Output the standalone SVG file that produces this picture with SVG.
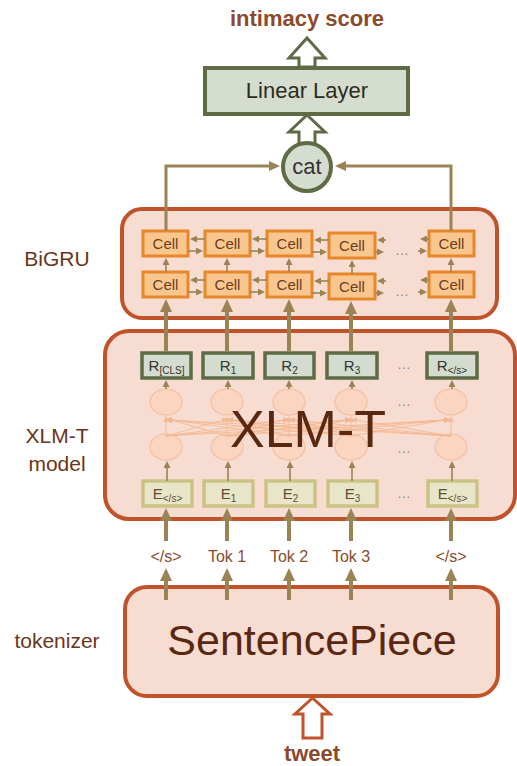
<svg xmlns="http://www.w3.org/2000/svg" width="517" height="766" viewBox="0 0 517 766">
<defs>
<marker id="hb" viewBox="0 0 13 12" refX="1" refY="6" markerWidth="13" markerHeight="12" markerUnits="userSpaceOnUse" orient="auto"><path d="M0,0 L13,6 L0,12 z" fill="#9A8456"/></marker>
<marker id="hm" viewBox="0 0 11 10" refX="1" refY="5" markerWidth="11" markerHeight="10" markerUnits="userSpaceOnUse" orient="auto"><path d="M0,0 L11,5 L0,10 z" fill="#9A8456"/></marker>
<marker id="hs" viewBox="0 0 7 7" refX="1" refY="3.5" markerWidth="7" markerHeight="7" markerUnits="userSpaceOnUse" orient="auto"><path d="M0,0 L7,3.5 L0,7 z" fill="#9A8456"/></marker>
<marker id="hf" viewBox="0 0 6 6" refX="1" refY="3" markerWidth="6" markerHeight="6" markerUnits="userSpaceOnUse" orient="auto"><path d="M0,0 L6,3 L0,6 z" fill="#F4B68C"/></marker>
</defs>
<style>
text{font-family:"Liberation Sans",Arial,sans-serif}
.big{fill:#F7DCD2;stroke:#C1532B;stroke-width:4}
.cell{fill:#F9C690;stroke:#E8862A;stroke-width:3}
.ctx{font-size:15px;fill:#6B3E20;text-anchor:middle}
.rb{fill:#D3DCCF;stroke:#5E6B45;stroke-width:3.5}
.eb{fill:#E9E5C9;stroke:#CBC385;stroke-width:3.5}
.rt{font-size:15px;fill:#333;text-anchor:middle}
.et{font-size:15px;fill:#5E4E36;text-anchor:middle}
.sub{font-size:10px}
.thick{stroke:#9A8456;stroke-width:4;fill:none;marker-end:url(#hb)}
.mid{stroke:#9A8456;stroke-width:3;fill:none;marker-end:url(#hm)}
.thin{stroke:#9A8456;stroke-width:1.6;fill:none;marker-end:url(#hs)}
.faint{stroke:#F4B68C;stroke-width:1;fill:none;opacity:0.8;marker-end:url(#hf)}
.fc{fill:#FAD6C2;stroke:#F6C4A6;stroke-width:1.5}
.lbl{font-size:21px;fill:#6A3518;text-anchor:middle}
.tok{font-size:16px;fill:#8A4C2E;text-anchor:middle}
.dots{font-size:14px;fill:#8A8A8A;text-anchor:middle}
.bold{font-size:22px;font-weight:bold;fill:#8B4A2B;text-anchor:middle}
</style>

<g id="labels">
<text class="bold" x="307" y="26">intimacy score</text>
<text class="lbl" x="57" y="266">BiGRU</text>
<text class="lbl" x="57" y="443">XLM-T</text>
<text class="lbl" x="57" y="471">model</text>
<text class="lbl" x="57" y="648">tokenizer</text>
<text class="bold" x="312" y="761">tweet</text>
</g>

<g id="linear">
<polygon points="299,67 299,58 289,58 307,38 325,58 315,58 315,67" fill="#fff" stroke="#5E6B45" stroke-width="3"/>
<polygon points="299,147 299,132 289,132 307,115 325,132 315,132 315,147" fill="#fff" stroke="#5E6B45" stroke-width="3"/>
<rect x="205" y="68" width="203" height="46" fill="#D5DDD0" stroke="#5E6B45" stroke-width="4"/>
<text x="307" y="98" font-size="22" fill="#2B2B1E" text-anchor="middle">Linear Layer</text>
</g>

<g id="cat">
<circle cx="307" cy="167" r="24" fill="#D5DDD0" stroke="#5E6B45" stroke-width="4"/>
<text x="307" y="174" font-size="22" fill="#333" text-anchor="middle">cat</text>
</g>

<g id="bigru">
<rect class="big" x="122" y="209" width="375" height="109" rx="20"/>
</g>

<g id="xlmt">
<rect class="big" x="105" y="331" width="410" height="188" rx="24"/>
<ellipse class="fc" cx="166" cy="402" rx="16" ry="13"/>
<ellipse class="fc" cx="227" cy="402" rx="16" ry="13"/>
<ellipse class="fc" cx="289" cy="402" rx="16" ry="13"/>
<ellipse class="fc" cx="351" cy="402" rx="16" ry="13"/>
<ellipse class="fc" cx="451" cy="402" rx="16" ry="13"/>
<ellipse class="fc" cx="166" cy="447" rx="16" ry="13"/>
<ellipse class="fc" cx="227" cy="447" rx="16" ry="13"/>
<ellipse class="fc" cx="289" cy="447" rx="16" ry="13"/>
<ellipse class="fc" cx="351" cy="447" rx="16" ry="13"/>
<ellipse class="fc" cx="451" cy="447" rx="16" ry="13"/>
<g>
<path class="faint" d="M166,436 L166,421"/><path class="faint" d="M166,436 L223,420"/><path class="faint" d="M166,436 L284,420"/><path class="faint" d="M166,436 L346,420"/><path class="faint" d="M166,436 L445,420"/>
<path class="faint" d="M227,436 L171,420"/><path class="faint" d="M227,436 L227,421"/><path class="faint" d="M227,436 L284,420"/><path class="faint" d="M227,436 L346,420"/><path class="faint" d="M227,436 L445,420"/>
<path class="faint" d="M289,436 L171,420"/><path class="faint" d="M289,436 L232,420"/><path class="faint" d="M289,436 L289,421"/><path class="faint" d="M289,436 L346,420"/><path class="faint" d="M289,436 L445,420"/>
<path class="faint" d="M351,436 L171,420"/><path class="faint" d="M351,436 L232,420"/><path class="faint" d="M351,436 L294,420"/><path class="faint" d="M351,436 L351,421"/><path class="faint" d="M351,436 L445,420"/>
<path class="faint" d="M451,436 L171,420"/><path class="faint" d="M451,436 L232,420"/><path class="faint" d="M451,436 L294,420"/><path class="faint" d="M451,436 L356,420"/><path class="faint" d="M451,436 L451,421"/>
</g>
<text class="dots" x="404" y="406">…</text>
<text class="dots" x="404" y="453">…</text>
<text x="308" y="447" font-size="52" fill="#5A2810" text-anchor="middle">XLM-T</text>
</g>

<g id="r-boxes">
<rect class="rb" x="142" y="353" width="49" height="25"/><text class="rt" x="166.5" y="371">R<tspan class="sub" dy="3">[CLS]</tspan></text>
<rect class="rb" x="203" y="353" width="50" height="25"/><text class="rt" x="228" y="371">R<tspan class="sub" dy="3">1</tspan></text>
<rect class="rb" x="265" y="353" width="49" height="25"/><text class="rt" x="289.5" y="371">R<tspan class="sub" dy="3">2</tspan></text>
<rect class="rb" x="327" y="353" width="50" height="25"/><text class="rt" x="352" y="371">R<tspan class="sub" dy="3">3</tspan></text>
<text class="dots" x="404" y="369">…</text>
<rect class="rb" x="427" y="353" width="50" height="25"/><text class="rt" x="452" y="371">R<tspan class="sub" dy="3">&lt;/s&gt;</tspan></text>
</g>

<g id="e-boxes">
<rect class="eb" x="143" y="481" width="49" height="25"/><text class="et" x="167.5" y="499">E<tspan class="sub" dy="3">&lt;/s&gt;</tspan></text>
<rect class="eb" x="204" y="481" width="49" height="25"/><text class="et" x="228.5" y="499">E<tspan class="sub" dy="3">1</tspan></text>
<rect class="eb" x="266" y="481" width="49" height="25"/><text class="et" x="290.5" y="499">E<tspan class="sub" dy="3">2</tspan></text>
<rect class="eb" x="328" y="481" width="49" height="25"/><text class="et" x="352.5" y="499">E<tspan class="sub" dy="3">3</tspan></text>
<text class="dots" x="404" y="498">…</text>
<rect class="eb" x="428" y="481" width="49" height="25"/><text class="et" x="452.5" y="499">E<tspan class="sub" dy="3">&lt;/s&gt;</tspan></text>
</g>

<g id="cells">
<rect class="cell" x="143" y="231" width="45" height="25"/><text class="ctx" x="165.5" y="249">Cell</text>
<rect class="cell" x="205" y="231" width="45" height="25"/><text class="ctx" x="227.5" y="249">Cell</text>
<rect class="cell" x="267" y="231" width="45" height="25"/><text class="ctx" x="289.5" y="249">Cell</text>
<rect class="cell" x="329" y="233" width="46" height="25"/><text class="ctx" x="352" y="251">Cell</text>
<rect class="cell" x="429" y="231" width="45" height="25"/><text class="ctx" x="451.5" y="249">Cell</text>
<rect class="cell" x="143" y="272" width="45" height="25"/><text class="ctx" x="165.5" y="290">Cell</text>
<rect class="cell" x="205" y="272" width="45" height="25"/><text class="ctx" x="227.5" y="290">Cell</text>
<rect class="cell" x="267" y="272" width="45" height="25"/><text class="ctx" x="289.5" y="290">Cell</text>
<rect class="cell" x="329" y="274" width="46" height="25"/><text class="ctx" x="352" y="292">Cell</text>
<rect class="cell" x="429" y="272" width="45" height="25"/><text class="ctx" x="451.5" y="290">Cell</text>
<text class="dots" x="402" y="255">…</text>
<text class="dots" x="402" y="296">…</text>
</g>

<g id="sentencepiece">
<rect class="big" x="125" y="587" width="373" height="109" rx="22"/>
<text x="312" y="655" font-size="43" fill="#5A2810" text-anchor="middle">SentencePiece</text>
<polygon points="303,738 303,714 295,714 312.5,698 330,714 322,714 322,738" fill="#fff" stroke="#C1532B" stroke-width="3"/>
</g>

<g id="tokens">
<text class="tok" x="166" y="562">&lt;/s&gt;</text>
<text class="tok" x="227" y="562">Tok 1</text>
<text class="tok" x="289" y="562">Tok 2</text>
<text class="tok" x="351" y="562">Tok 3</text>
<text class="tok" x="451" y="562">&lt;/s&gt;</text>
</g>

<g id="connectors">
<path class="mid" d="M166,231 V166 H270"/>
<path class="mid" d="M451,231 V166 H345"/>
<path class="thick" d="M166,352 V311"/>
<path class="thick" d="M227,352 V311"/>
<path class="thick" d="M289,352 V311"/>
<path class="thick" d="M351,352 V313"/>
<path class="thick" d="M451,352 V311"/>
<path class="thin" d="M166,272 V264"/>
<path class="thin" d="M227,272 V264"/>
<path class="thin" d="M289,272 V264"/>
<path class="thin" d="M352,274 V266"/>
<path class="thin" d="M451,272 V264"/>
<path class="thin" d="M205,239 H196"/><path class="thin" d="M188,251 H197"/>
<path class="thin" d="M267,239 H258"/><path class="thin" d="M250,251 H259"/>
<path class="thin" d="M329,240 H320"/><path class="thin" d="M312,252 H321"/>
<path class="thin" d="M386,240 H383"/><path class="thin" d="M375,252 H378"/>
<path class="thin" d="M429,239 H426"/><path class="thin" d="M418,251 H421"/>
<path class="thin" d="M205,280 H196"/><path class="thin" d="M188,292 H197"/>
<path class="thin" d="M267,280 H258"/><path class="thin" d="M250,292 H259"/>
<path class="thin" d="M329,281 H320"/><path class="thin" d="M312,293 H321"/>
<path class="thin" d="M386,281 H383"/><path class="thin" d="M375,293 H378"/>
<path class="thin" d="M429,280 H426"/><path class="thin" d="M418,292 H421"/>
<path class="thin" d="M166,389 V386"/>
<path class="thin" d="M228,389 V386"/>
<path class="thin" d="M289,389 V386"/>
<path class="thin" d="M352,389 V386"/>
<path class="thin" d="M452,389 V386"/>
<path class="thin" d="M167,481 V467"/>
<path class="thin" d="M228,481 V467"/>
<path class="thin" d="M290,481 V467"/>
<path class="thin" d="M352,481 V467"/>
<path class="thin" d="M452,481 V467"/>
<path class="thick" d="M166,541 V520"/>
<path class="thick" d="M227,541 V520"/>
<path class="thick" d="M289,541 V520"/>
<path class="thick" d="M351,541 V520"/>
<path class="thick" d="M451,541 V520"/>
<path class="thick" d="M166,600 V580"/>
<path class="thick" d="M227,600 V580"/>
<path class="thick" d="M289,600 V580"/>
<path class="thick" d="M351,600 V580"/>
<path class="thick" d="M451,600 V580"/>
</g>
</svg>
